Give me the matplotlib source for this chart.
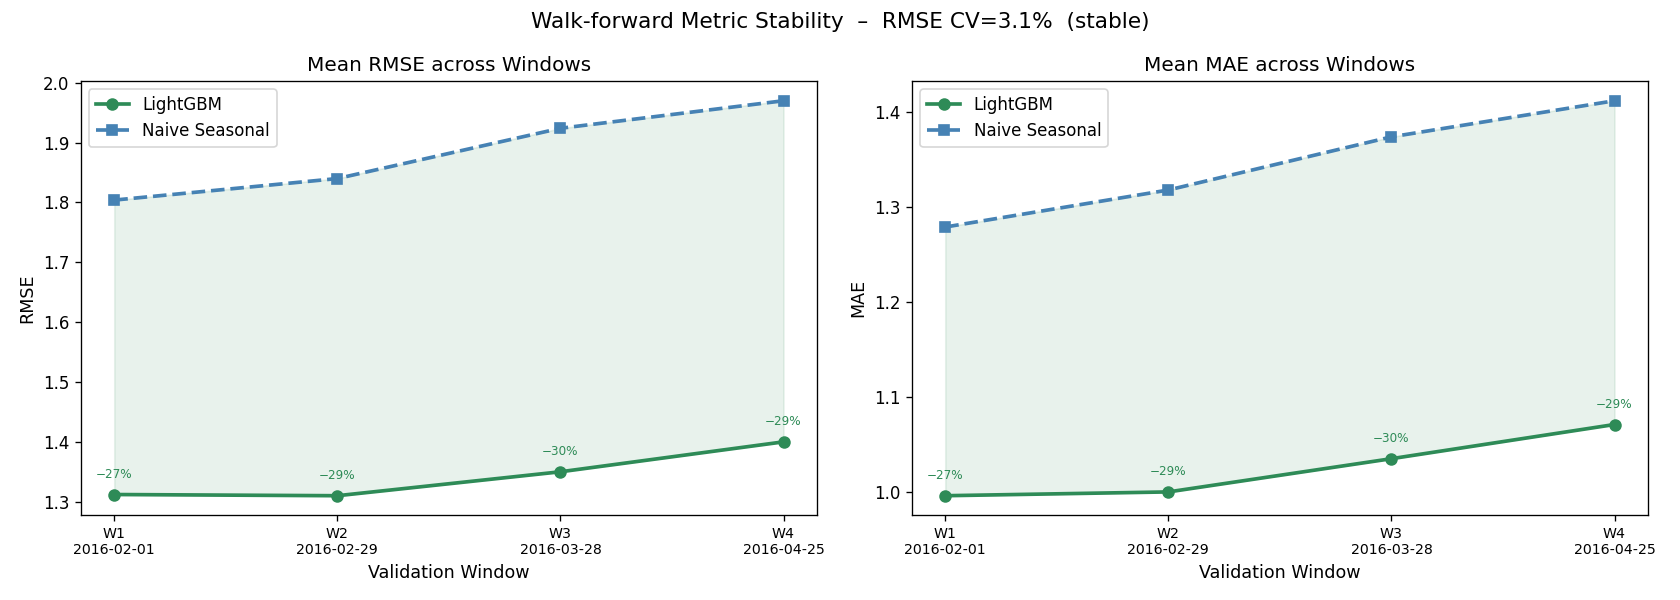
import numpy as np
import matplotlib
matplotlib.use('Agg')
import matplotlib.pyplot as plt


WINDOWS = ['W1', 'W2', 'W3', 'W4']
WINDOW_DATES = ['2016-02-01', '2016-02-29', '2016-03-28', '2016-04-25']
RMSE_LGBM = [1.312, 1.310, 1.350, 1.400]
RMSE_NAIVE = [1.804, 1.840, 1.924, 1.970]
MAE_LGBM = [0.996, 1.000, 1.035, 1.071]
MAE_NAIVE = [1.279, 1.318, 1.374, 1.412]
RMSE_CV = 3.1

GREEN = '#2e8b57'
BLUE = '#4682b4'


def draw_panel(ax, lgbm, naive, title, ylabel, gains):
    x = np.arange(len(WINDOWS))
    ax.plot(x, lgbm, '-o', color=GREEN, lw=2.2, ms=6.5, label='LightGBM')
    ax.plot(x, naive, '--s', color=BLUE, lw=2.2, ms=6.5, label='Naive Seasonal')
    ax.fill_between(x, lgbm, naive, color=GREEN, alpha=0.11)
    for xi, yi, g in zip(x, lgbm, gains):
        ax.annotate(f'\u2212{abs(g):.0f}%', (xi, yi), textcoords='offset points',
                    xytext=(0, 10), ha='center', fontsize=7.2, color=GREEN)
    ax.set_xticks(x)
    ax.set_xticklabels([f'{w}\n{d}' for w, d in zip(WINDOWS, WINDOW_DATES)], fontsize=8.5)
    ax.set_title(title, fontsize=12)
    ax.set_xlabel('Validation Window', fontsize=10.5)
    ax.set_ylabel(ylabel, fontsize=10.5)
    ax.legend(loc='upper left', fontsize=10)


def main():
    gains = [(l - n) / n * 100 for l, n in zip(RMSE_LGBM, RMSE_NAIVE)]
    fig, axes = plt.subplots(1, 2, figsize=(14, 5), dpi=120)
    draw_panel(axes[0], RMSE_LGBM, RMSE_NAIVE, 'Mean RMSE across Windows', 'RMSE', gains)
    draw_panel(axes[1], MAE_LGBM, MAE_NAIVE, 'Mean MAE across Windows', 'MAE', gains)
    fig.suptitle(f'Walk-forward Metric Stability  \u2013  RMSE CV={RMSE_CV:.1f}%  (stable)', fontsize=13)
    fig.tight_layout()
    fig.savefig('out.png')


if __name__ == '__main__':
    main()
